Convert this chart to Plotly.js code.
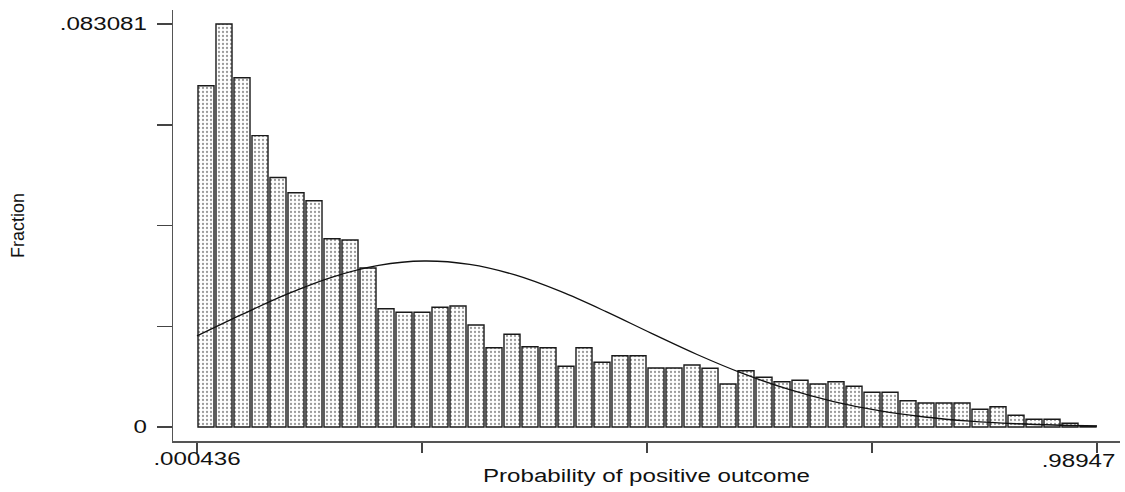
<!DOCTYPE html>
<html>
<head>
<meta charset="utf-8">
<script src="https://cdn.plot.ly/plotly-3.0.1.min.js"></script>
<style>
  html, body { margin: 0; padding: 0; background: #fff; }
  #chart { width: 1125px; height: 492px; }
</style>
</head>
<body>
<div id="chart"></div>
<script>
// ---- data ----
const binStart = 0.000436;
const binEnd = 0.98947;
const nBins = 50;

const fractions = [
  0.07036, 0.083081, 0.07201, 0.06006, 0.05144, 0.04830, 0.04665, 0.03882, 0.03855, 0.03278,
  0.02439, 0.02365, 0.02365, 0.02468, 0.02495, 0.02103, 0.01635, 0.01911, 0.01655, 0.01635,
  0.01251, 0.01635, 0.01334, 0.01470, 0.01470, 0.01216, 0.01216, 0.01278, 0.01210, 0.00886,
  0.01161, 0.01025, 0.00934, 0.00963, 0.00886, 0.00934, 0.00839, 0.00715, 0.00715, 0.00542,
  0.00495, 0.00495, 0.00495, 0.00365, 0.00419, 0.00241, 0.00159, 0.00159, 0.00076, 0.00014
];

const curveX = [0.000436, 0.05, 0.1, 0.15, 0.2, 0.25, 0.3, 0.35, 0.4, 0.45, 0.5,
                0.55, 0.6, 0.65, 0.7, 0.75, 0.8, 0.85, 0.9, 0.95, 0.98947];
const curveY = [0.01877, 0.02321, 0.02744, 0.03096, 0.03332, 0.03422, 0.03352, 0.03134, 0.02794, 0.02378, 0.01930,
                0.01495, 0.01105, 0.00779, 0.00524, 0.00336, 0.00206, 0.00120, 0.00067, 0.00036, 0.00021];

const xTickVals = [0.000436, 0.2476945, 0.494953, 0.7422115, 0.98947];
const xTickText = ['.000436', '', '', '', ''];
const xEndLabel = '.98947';
const yTickVals = [0, 0.02077025, 0.0415405, 0.06231075, 0.083081];
const yTickText = ['0', '', '', '', '.083081'];
const xTitle = 'Probability of positive outcome';
const yTitle = 'Fraction';

// ---- derived ----
const bw = (binEnd - binStart) / nBins;
const centers = fractions.map((_, i) => binStart + (i + 0.5) * bw);

const font = 'Liberation Sans, Arial, Helvetica, sans-serif';

const bars = {
  type: 'bar',
  x: centers,
  y: fractions,
  width: centers.map(() => bw * 0.89),
  marker: {
    color: '#ffffff',
    line: { color: '#1a1a1a', width: 1.4 },
    pattern: { shape: '.', fgcolor: '#9a9a9a', bgcolor: '#ffffff', size: 4, solidity: 0.25 }
  },
  hoverinfo: 'skip'
};

const curve = {
  type: 'scatter',
  mode: 'lines',
  x: curveX,
  y: curveY,
  line: { color: '#111', width: 1.3, shape: 'spline', smoothing: 1 },
  hoverinfo: 'skip'
};

const layout = {
  width: 1125,
  height: 492,
  margin: { l: 173, r: 5, t: 10, b: 51 },
  paper_bgcolor: '#fff',
  plot_bgcolor: '#fff',
  showlegend: false,
  font: { family: font, color: '#111', size: 18 },
  xaxis: {
    range: [-0.025938, 1.01475],
    showgrid: false, zeroline: false,
    showline: true, linecolor: '#555', linewidth: 1.5,
    ticks: 'outside', ticklen: 10, tickwidth: 1.5, tickcolor: '#444',
    tickmode: 'array', tickvals: xTickVals, ticktext: xTickText,
    ticklabelstandoff: -9,
    tickfont: { family: font, size: 18, color: '#111' },
    title: { text: xTitle, font: { family: font, size: 18, color: '#111' }, standoff: 1 }
  },
  yaxis: {
    range: [-0.002886, 0.085967],
    showgrid: false, zeroline: false,
    showline: true, linecolor: '#555', linewidth: 1.5,
    ticks: 'outside', ticklen: 15, tickwidth: 1.5, tickcolor: '#444',
    tickmode: 'array', tickvals: yTickVals, ticktext: yTickText,
    ticklabelstandoff: 6,
    tickfont: { family: font, size: 18, color: '#111' },
    title: { text: yTitle, font: { family: font, size: 18, color: '#111' }, standoff: 52 }
  },
  annotations: [{
    xref: 'x', yref: 'paper', x: 0.98947, y: 0, yshift: -8,
    xanchor: 'center', yanchor: 'top', xshift: -19,
    text: xEndLabel, showarrow: false,
    font: { family: font, size: 18, color: '#111' }
  }]
};

Plotly.newPlot('chart', [bars, curve], layout, { staticPlot: true, displayModeBar: false }).then(gd => {
  const stretch = 1.34;
  gd.querySelectorAll('.xtick text, .ytick text, .g-xtitle text, .annotation-text').forEach(t => {
    const w = t.getComputedTextLength();
    if (w > 0) {
      t.setAttribute('textLength', (w * stretch).toFixed(1));
      t.setAttribute('lengthAdjust', 'spacingAndGlyphs');
    }
  });
});
</script>
</body>
</html>
